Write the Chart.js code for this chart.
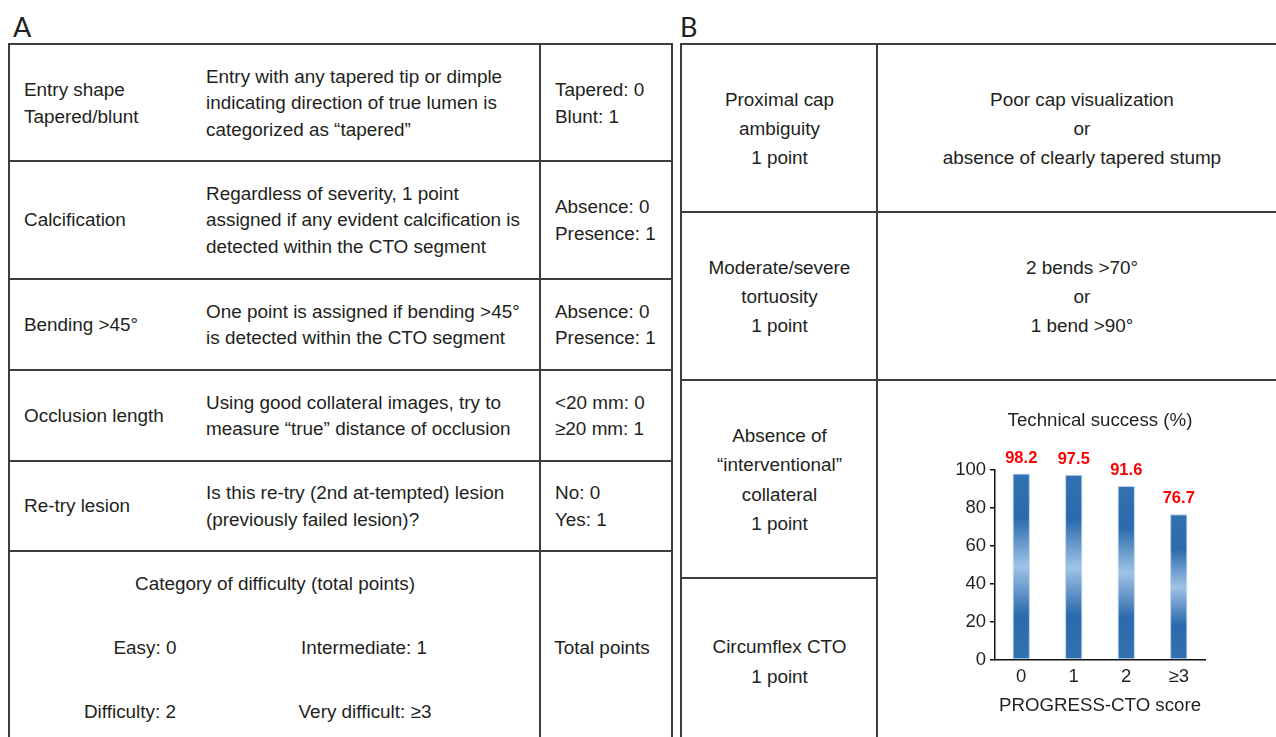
<!DOCTYPE html>
<html>
<head>
<meta charset="utf-8">
<script src="https://cdn.jsdelivr.net/npm/chart.js@4.4.1/dist/chart.umd.min.js"></script>
<style>
  html, body { margin:0; padding:0; background:#fff; }
  body { width:1276px; height:737px; position:relative; overflow:hidden;
         font-family:"Liberation Sans", Arial, Helvetica, sans-serif; color:#231f20; }
  .ln { position:absolute; background:#3d3d3d; }
  .cell { position:absolute; display:flex; align-items:center; font-size:18.9px; line-height:26.5px; box-sizing:border-box; white-space:nowrap; }
  .bc { position:absolute; display:flex; align-items:center; justify-content:center; text-align:center; font-size:18.9px; line-height:29.3px; white-space:nowrap; }
  .t { position:absolute; font-size:18.9px; white-space:nowrap; transform:translate(-50%,-50%); line-height:22px; }
  .panel { position:absolute; font-family:Lato, "Open Sans", sans-serif; font-size:27px; line-height:27px; color:#231f20; }
  #wrap { position:absolute; left:900px; top:380px; width:370px; height:357px; }
</style>
</head>
<body>
<div class="panel" style="left:13px;top:13px;">A</div>
<div class="panel" style="left:680px;top:13px;">B</div>

<!-- Table A lines -->
<div class="ln" style="left:9px;top:43px;width:664px;height:2px;"></div>
<div class="ln" style="left:9px;top:160px;width:664px;height:2px;"></div>
<div class="ln" style="left:9px;top:278px;width:664px;height:2px;"></div>
<div class="ln" style="left:9px;top:369px;width:664px;height:2px;"></div>
<div class="ln" style="left:9px;top:460px;width:664px;height:2px;"></div>
<div class="ln" style="left:9px;top:550px;width:664px;height:2px;"></div>
<div class="ln" style="left:8px;top:43px;width:2px;height:700px;"></div>
<div class="ln" style="left:539px;top:43px;width:2px;height:700px;"></div>
<div class="ln" style="left:671px;top:43px;width:2px;height:700px;"></div>

<!-- Table B lines -->
<div class="ln" style="left:680px;top:43px;width:600px;height:2px;"></div>
<div class="ln" style="left:680px;top:211px;width:600px;height:2px;"></div>
<div class="ln" style="left:680px;top:379px;width:600px;height:2px;"></div>
<div class="ln" style="left:680px;top:577px;width:197px;height:2px;"></div>
<div class="ln" style="left:680px;top:43px;width:2px;height:700px;"></div>
<div class="ln" style="left:876px;top:43px;width:2px;height:700px;"></div>

<!-- Table A text -->
<div class="cell" style="left:24px;top:45px;height:117px;">Entry shape<br>Tapered/blunt</div>
<div class="cell" style="left:206px;top:45px;height:117px;">Entry with any tapered tip or dimple<br>indicating direction of true lumen is<br>categorized as “tapered”</div>
<div class="cell" style="left:555px;top:45px;height:117px;">Tapered: 0<br>Blunt: 1</div>

<div class="cell" style="left:24px;top:162px;height:117px;">Calcification</div>
<div class="cell" style="left:206px;top:162px;height:117px;">Regardless of severity, 1 point<br>assigned if any evident calcification is<br>detected within the CTO segment</div>
<div class="cell" style="left:555px;top:162px;height:117px;">Absence: 0<br>Presence: 1</div>

<div class="cell" style="left:24px;top:280px;height:90px;">Bending &gt;45°</div>
<div class="cell" style="left:206px;top:280px;height:90px;">One point is assigned if bending &gt;45°<br>is detected within the CTO segment</div>
<div class="cell" style="left:555px;top:280px;height:90px;">Absence: 0<br>Presence: 1</div>

<div class="cell" style="left:24px;top:371px;height:90px;">Occlusion length</div>
<div class="cell" style="left:206px;top:371px;height:90px;">Using good collateral images, try to<br>measure “true” distance of occlusion</div>
<div class="cell" style="left:555px;top:371px;height:90px;">&lt;20 mm: 0<br>≥20 mm: 1</div>

<div class="cell" style="left:24px;top:462px;height:89px;">Re-try lesion</div>
<div class="cell" style="left:206px;top:462px;height:89px;">Is this re-try (2nd at-tempted) lesion<br>(previously failed lesion)?</div>
<div class="cell" style="left:555px;top:462px;height:89px;">No: 0<br>Yes: 1</div>

<div class="t" style="left:275px;top:584px;">Category of difficulty (total points)</div>
<div class="t" style="left:145px;top:648px;">Easy: 0</div>
<div class="t" style="left:364px;top:648px;">Intermediate: 1</div>
<div class="t" style="left:130px;top:712px;">Difficulty: 2</div>
<div class="t" style="left:365px;top:712px;">Very difficult: ≥3</div>
<div class="t" style="left:602px;top:648px;">Total points</div>

<!-- Table B text -->
<div class="bc" style="left:682px;top:45px;width:195px;height:167px;">Proximal cap<br>ambiguity<br>1 point</div>
<div class="bc" style="left:878px;top:45px;width:408px;height:167px;">Poor cap visualization<br>or<br>absence of clearly tapered stump</div>
<div class="bc" style="left:682px;top:213px;width:195px;height:167px;">Moderate/severe<br>tortuosity<br>1 point</div>
<div class="bc" style="left:878px;top:213px;width:408px;height:167px;">2 bends &gt;70°<br>or<br>1 bend &gt;90°</div>
<div class="bc" style="left:682px;top:381px;width:195px;height:197px;">Absence of<br>“interventional”<br>collateral<br>1 point</div>
<div class="bc" style="left:682px;top:579px;width:195px;height:165px;">Circumflex CTO<br>1 point</div>

<div id="wrap"><canvas id="c"></canvas></div>

<script>
const categories = ['0', '1', '2', '≥3'];
const successValues = [98.2, 97.5, 91.6, 76.7];
const yTicks = [0, 20, 40, 60, 80, 100];
const chartTitle = 'Technical success (%)';
const xTitle = 'PROGRESS-CTO score';

const FONT = '"Liberation Sans", Arial, Helvetica, sans-serif';
const INK = '#231f20';

function barGradient(ctx) {
  const chart = ctx.chart;
  const area = chart.chartArea;
  if (!area || ctx.type !== 'data') return '#2e72b2';
  const ys = chart.scales.y;
  const top = ys.getPixelForValue(ctx.raw);
  const base = ys.getPixelForValue(0);
  const g = chart.ctx.createLinearGradient(0, top, 0, base);
  g.addColorStop(0, '#3172b2');
  g.addColorStop(0.24, '#2b6aac');
  g.addColorStop(0.5, '#9fc3e6');
  g.addColorStop(0.76, '#2b6aac');
  g.addColorStop(1, '#3172b2');
  return g;
}

const valueLabels = {
  id: 'valueLabels',
  afterDatasetsDraw(chart) {
    const c = chart.ctx;
    const meta = chart.getDatasetMeta(0);
    c.save();
    c.font = 'bold 16.5px ' + FONT;
    c.fillStyle = '#ff0000';
    c.textAlign = 'center';
    c.textBaseline = 'middle';
    meta.data.forEach((bar, i) => {
      c.fillText(successValues[i].toFixed(1), bar.x, bar.y - 15.5);
    });
    c.restore();
  }
};

new Chart(document.getElementById('c'), {
  type: 'bar',
  data: {
    labels: categories,
    datasets: [{
      data: successValues,
      backgroundColor: barGradient,
      borderColor: '#b4d0ec',
      borderWidth: 1,
      borderSkipped: false,
      categoryPercentage: 1,
      barPercentage: 0.33
    }]
  },
  options: {
    responsive: true,
    maintainAspectRatio: false,
    animation: false,
    layout: { padding: { left: 50, right: 65, top: 0, bottom: 17 } },
    plugins: {
      legend: { display: false },
      tooltip: { enabled: false },
      title: {
        display: true,
        text: chartTitle,
        fullSize: false,
        color: INK,
        font: { family: FONT, size: 18.7, weight: 'normal' },
        padding: { top: 30, bottom: 37.6 }
      }
    },
    scales: {
      y: {
        min: 0, max: 100,
        afterFit(s) { s.width = 45; },
        afterBuildTicks(s) { s.ticks = yTicks.map(v => ({ value: v })); },
        ticks: { color: INK, font: { family: FONT, size: 18.5 }, padding: 4 },
        grid: { display: true, drawOnChartArea: false, tickLength: 5, color: '#111', lineWidth: 1.5 },
        border: { display: true, color: '#111', width: 1.5 }
      },
      x: {
        afterFit(s) { s.height = 60; },
        ticks: { color: INK, font: { family: FONT, size: 18.5 }, padding: 6 },
        grid: { display: false, drawTicks: false },
        border: { display: true, color: '#111', width: 1.5 },
        title: { display: true, text: xTitle, color: INK, font: { family: FONT, size: 18.7 }, padding: { top: 0, bottom: 3 } }
      }
    }
  },
  plugins: [valueLabels]
});
</script>
</body>
</html>
